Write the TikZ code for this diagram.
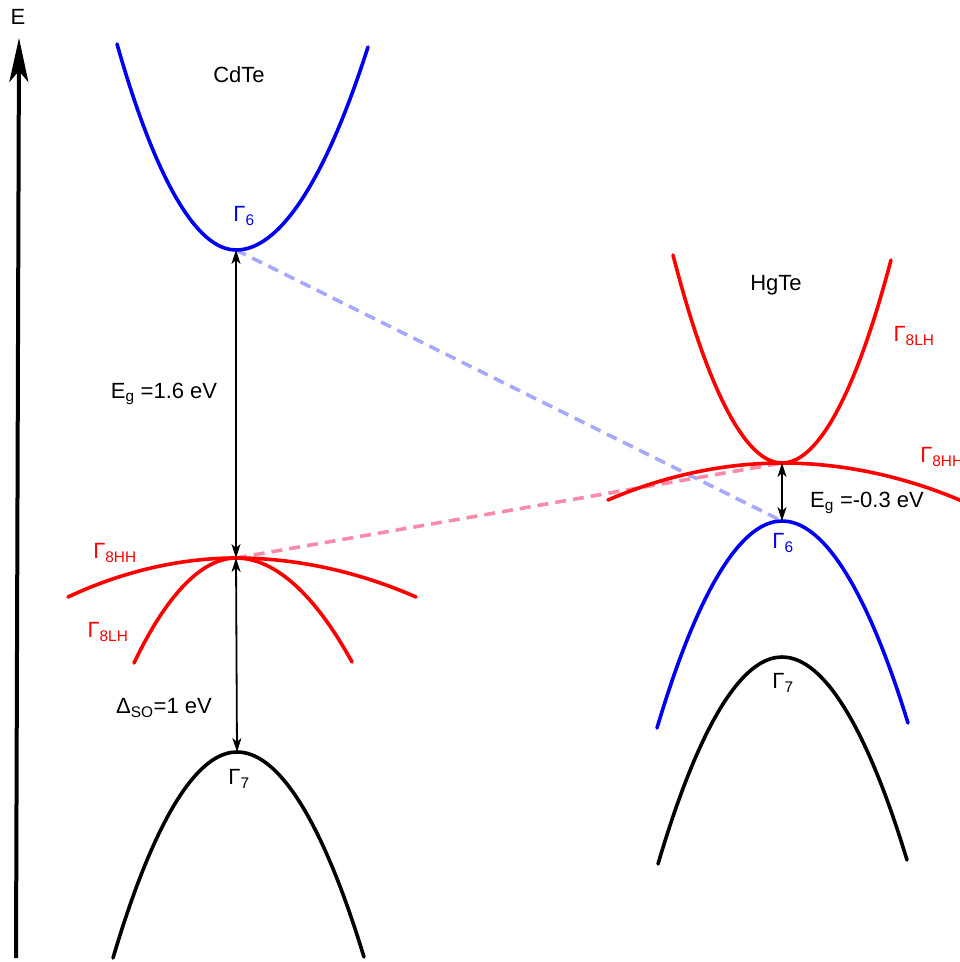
\documentclass[tikz,border=0pt]{standalone}
\usepackage{fontspec}
\setmainfont{Liberation Sans}
\usetikzlibrary{arrows.meta}
\definecolor{bandblue}{RGB}{0,0,240}
\definecolor{bandred}{RGB}{255,0,0}
\definecolor{dashblue}{RGB}{168,168,250}
\definecolor{dashpink}{RGB}{248,140,168}
\tikzset{
  band/.style={line width=3.6pt, line cap=round},
  gap/.style={line width=1.8pt, {Stealth[length=14pt,width=9pt,inset=4pt]}-{Stealth[length=14pt,width=9pt,inset=4pt]}},
  link/.style={line width=3.6pt, dash pattern=on 11pt off 7pt},
  lbl/.style={font=\fontsize{22}{26}\selectfont, inner sep=0pt},
}
\begin{document}
\begin{tikzpicture}[x=1pt,y=-1pt]
\useasboundingbox (0,0) rectangle (960,962);
\clip (0,0) rectangle (960,962);
% axis
\coordinate (axb) at (16,958);
\coordinate (axt) at (19,38);
\draw[line width=4pt, -{Stealth[length=44pt,width=19pt,inset=11pt]}] (axb) -- (axt);
\node[lbl] (E) at (18,17) {E};
% band extrema
\coordinate (cdG6) at (236,250);
\coordinate (cdG8) at (236,558);
\coordinate (cdG7) at (237,752);
\coordinate (hgG8) at (782,463);
\coordinate (hgG6) at (782,521);
\coordinate (hgG7) at (782,657);
% dashed links
\draw[link, dashblue] (cdG6) -- (hgG6);
\draw[link, dashpink] (cdG8) -- (hgG8);
% CdTe bands
\draw[band, bandblue] (117,44) parabola bend (cdG6) (368,47);
\draw[band, bandred] (68,597) parabola bend (cdG8) (416,597);
\draw[band, bandred] (134,663) parabola bend (cdG8) (352,662);
\draw[band, black] (113,958) parabola bend (cdG7) (364,957);
% HgTe bands
\draw[band, bandred] (673,255) parabola bend (hgG8) (891,260);
\draw[band, bandred] (608,500) parabola bend (hgG8) (962,501);
\draw[band, bandblue] (657,728) parabola bend (hgG6) (908,723);
\draw[band, black] (658,864) parabola bend (hgG7) (907,860);
% gaps
\draw[gap] (cdG6) -- (cdG8);
\draw[gap] (cdG8) -- (cdG7);
\draw[gap] (hgG8) -- (hgG6);
% labels
\node[lbl] (cdte) at (239,75) {CdTe};
\node[lbl] (hgte) at (776,285) {HgTe};
\node[lbl, bandblue] (lcdG6) at (244,216) {Γ\textsubscript{6}};
\node[lbl, bandred] (lcdHH) at (115,553) {Γ\textsubscript{8HH}};
\node[lbl, bandred] (lcdLH) at (108,632) {Γ\textsubscript{8LH}};
\node[lbl] (lcdG7) at (239,779) {Γ\textsubscript{7}};
\node[lbl] (lcdEg) at (164,394) {E\textsubscript{g} =1.6 eV};
\node[lbl] (lso) at (164,708) {Δ\textsubscript{SO}=1 eV};
\node[lbl, bandred] (lhgLH) at (914,336) {Γ\textsubscript{8LH}};
\node[lbl, bandred] (lhgHH) at (942,457) {Γ\textsubscript{8HH}};
\node[lbl] (lhgEg) at (867,503) {E\textsubscript{g} =-0.3 eV};
\node[lbl, bandblue] (lhgG6) at (783,543) {Γ\textsubscript{6}};
\node[lbl] (lhgG7) at (783,683) {Γ\textsubscript{7}};
\end{tikzpicture}
\end{document}
